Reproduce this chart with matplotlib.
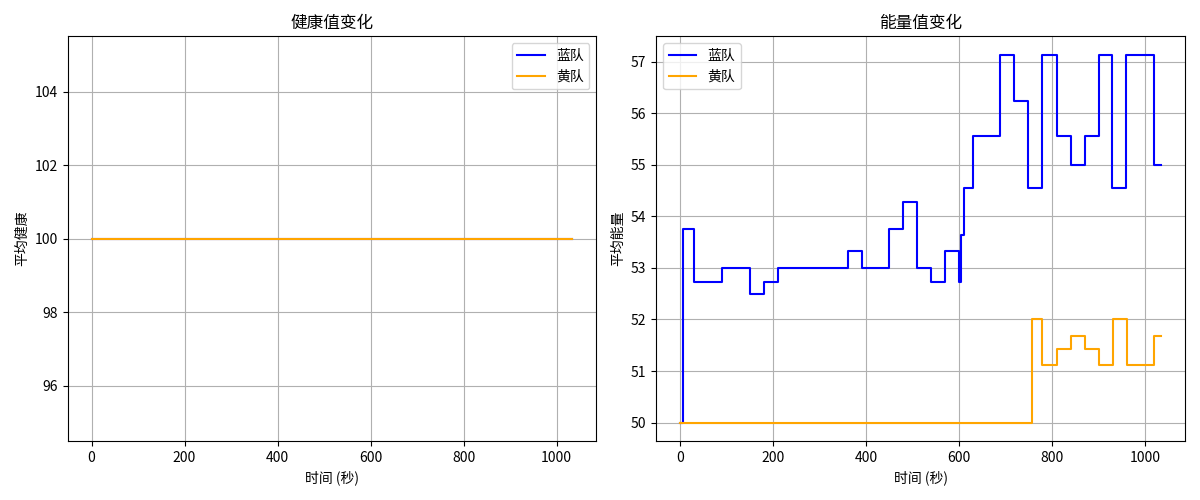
import matplotlib.pyplot as plt

plt.rcParams['font.family'] = ['Noto Sans CJK SC', 'DejaVu Sans']
plt.rcParams['axes.unicode_minus'] = False

# health: constant 100 for both teams
health_t = [0, 1034]
blue_health = [100, 100]
yellow_health = [100, 100]

# energy step changes (time in s, value)
blue_t = [0, 5, 30, 90, 150, 180, 210, 360, 390, 450, 480, 510, 540, 570, 600, 603, 610, 630,
          688, 718, 748, 778, 810, 840, 870, 900, 929, 959, 1019, 1034]
blue_e = [50, 53.75, 52.73, 53.0, 52.5, 52.73, 53.0, 53.33, 53.0, 53.75, 54.29, 53.0, 52.73, 53.33,
          52.73, 53.64, 54.55, 55.56, 57.14, 56.25, 54.55, 57.14, 55.56, 55.0, 55.56, 57.14,
          54.55, 57.14, 55.0, 55.0]
yellow_t = [0, 756, 778, 810, 840, 870, 900, 930, 960, 1020, 1034]
yellow_e = [50, 52.0, 51.11, 51.43, 51.67, 51.43, 51.11, 52.0, 51.11, 51.67, 51.67]

fig, (ax1, ax2) = plt.subplots(1, 2, figsize=(12, 5), dpi=100)

ax1.plot(health_t, blue_health, color='blue', label='蓝队')
ax1.plot(health_t, yellow_health, color='orange', label='黄队')
ax1.set_title('健康值变化')
ax1.set_xlabel('时间 (秒)')
ax1.set_ylabel('平均健康')
ax1.set_ylim(94.5, 105.5)
ax1.set_yticks([96, 98, 100, 102, 104])
ax1.legend(loc='upper right')
ax1.grid(True)

ax2.plot(blue_t, blue_e, color='blue', label='蓝队', drawstyle='steps-post')
ax2.plot(yellow_t, yellow_e, color='orange', label='黄队', drawstyle='steps-post')
ax2.set_title('能量值变化')
ax2.set_xlabel('时间 (秒)')
ax2.set_ylabel('平均能量')
ax2.legend(loc='upper left')
ax2.grid(True)

plt.tight_layout()
plt.savefig('out.png')
